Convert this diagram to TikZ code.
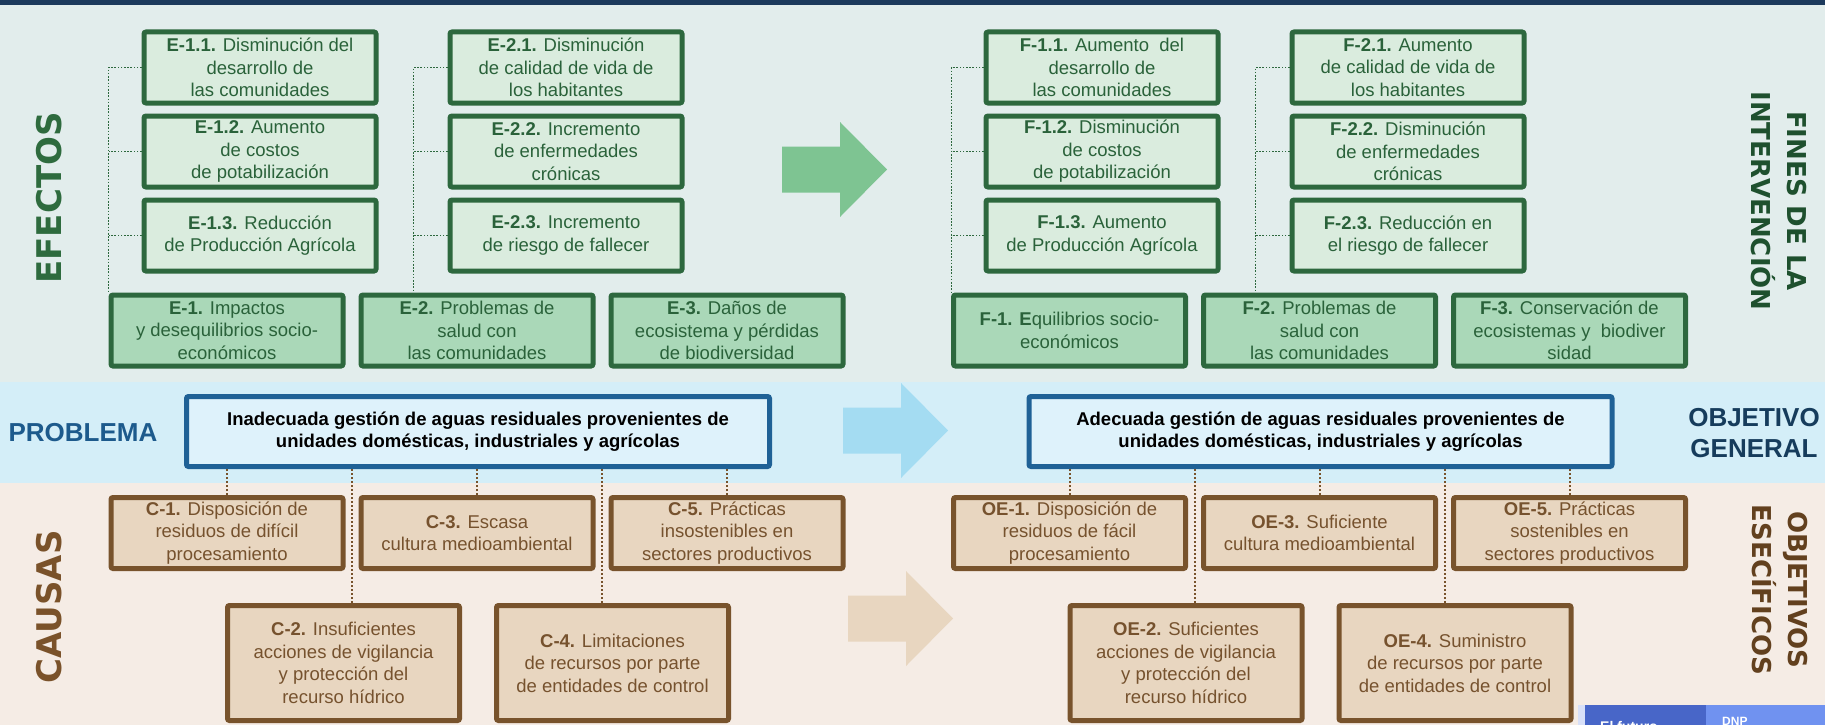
\documentclass[tikz,border=0pt]{standalone}
\usepackage{fontspec}
\setmainfont{Liberation Sans}
\newfontfamily\widefont{DejaVu Sans}
\usepackage{tikz}
\usetikzlibrary{calc, positioning}

\definecolor{navyline}{RGB}{28,58,92}
\definecolor{greenbg}{RGB}{226,237,236}
\definecolor{bluebg}{RGB}{212,238,248}
\definecolor{beigebg}{RGB}{245,236,229}
\definecolor{subfill}{RGB}{218,236,222}
\definecolor{effectfill}{RGB}{170,216,184}
\definecolor{greenline}{RGB}{45,104,62}
\definecolor{greentext}{RGB}{42,98,58}
\definecolor{greenarrow}{RGB}{126,196,146}
\definecolor{blueline}{RGB}{31,97,150}
\definecolor{bluefill}{RGB}{222,242,251}
\definecolor{bluearrow}{RGB}{164,220,242}
\definecolor{probtext}{RGB}{29,90,140}
\definecolor{objtext}{RGB}{22,60,92}
\definecolor{brownline}{RGB}{120,83,44}
\definecolor{brownfill}{RGB}{232,214,192}
\definecolor{browntext}{RGB}{118,82,46}
\definecolor{causastext}{RGB}{122,82,42}
\definecolor{objesptext}{RGB}{98,64,30}
\definecolor{finestext}{RGB}{30,80,46}
\definecolor{efectostext}{RGB}{46,107,62}
\definecolor{dnpdark}{RGB}{72,102,200}
\definecolor{dnplight}{RGB}{112,146,240}
\definecolor{dnpstrip}{RGB}{216,224,248}

% fat block arrow: shaft left x, centre y, colour
\newcommand{\fatarrow}[3]{\fill[#3] (#1,#2) ++(0,23) -- ++(58,0) -- ++(0,24.5) -- ++(47,-47.5) -- ++(-47,-47.5) -- ++(0,24.5) -- ++(-58,0) -- cycle;}

\begin{document}
\begin{tikzpicture}
[
    x = 1pt, y = 1pt,
    every node/.style = {align = center, inner sep = 0pt},
    GreenLink/.style = {draw = greenline, line width = 1.8pt, dash pattern = on 1.6pt off 1.6pt},
    BrownLink/.style = {draw = brownline, line width = 2pt, dash pattern = on 2pt off 2pt}
  ]

  \tikzset{BoxStyle/.style = {shape           = rectangle,
                              rounded corners = 2pt,
                              line width      = 5pt,
                              minimum width   = 232pt,
                              minimum height  = 71pt,
                              font            = \fontsize{18.5}{22.5}\selectfont}}
  \tikzset{SubEffectStyle/.style = {BoxStyle, draw = greenline, fill = subfill, text = greentext},
           EffectStyle/.style    = {BoxStyle, draw = greenline, fill = effectfill, text = greentext},
           CauseStyle/.style     = {BoxStyle, draw = brownline, fill = brownfill, text = browntext},
           BigCauseStyle/.style  = {CauseStyle, minimum height = 115pt},
           CentralStyle/.style   = {BoxStyle, draw = blueline, fill = bluefill, text = black,
                                    line width = 5pt, minimum width = 583pt, minimum height = 70pt,
                                    font = \fontsize{18.5}{21.5}\selectfont\bfseries},
           SideStyle/.style      = {font = \widefont\bfseries\fontsize{34}{40}\selectfont},
           TitleStyle/.style     = {font = \widefont\bfseries\fontsize{26}{36}\selectfont},
           BandStyle/.style      = {font = \bfseries\fontsize{26}{31}\selectfont}}

  \useasboundingbox (0,0) rectangle (1825,-725);

  % bands
  \fill[greenbg] (0,0) rectangle (1825,-382);
  \fill[navyline] (0,-0.5) rectangle (1825,-5);
  \fill[bluebg] (0,-382) rectangle (1825,-483);
  \fill[beigebg] (0,-483) rectangle (1825,-725);

  \fatarrow{782}{-169.5}{greenarrow}
  \fatarrow{843}{-430.5}{bluearrow}
  \fatarrow{848}{-618.5}{brownfill}

  % side labels
  \node[SideStyle, text = efectostext, rotate = 90](efectos) at (49,-198) {EFECTOS};
  \node[SideStyle, text = causastext, rotate = 90](causas) at (49,-607) {CAUSAS};
  \node[TitleStyle, text = finestext, rotate = -90](fines) at (1779,-201) {FINES DE LA\\INTERVENCIÓN};
  \node[TitleStyle, text = objesptext, rotate = -90](objesp) at (1780,-590) {OBJETIVOS\\ESECÍFICOS};
  \node[BandStyle, text = probtext](problabel) at (83,-433) {PROBLEMA};
  \node[BandStyle, text = objtext](objlabel) at (1754,-433) {OBJETIVO\\GENERAL};

  \begin{scope}[node distance = 8pt and 13pt]
  % efectos
  \node[SubEffectStyle](e11) at (260,-67.5) {\textbf{E-1.1.} Disminución del\\desarrollo de\\las comunidades};
  \node[SubEffectStyle, below = of e11](e12) {\textbf{E-1.2.} Aumento\\de costos\\de potabilización};
  \node[SubEffectStyle, below = of e12](e13) {\textbf{E-1.3.} Reducción\\de Producción Agrícola};
  \node[SubEffectStyle, right = 69pt of e11](e21) {\textbf{E-2.1.} Disminución\\de calidad de vida de\\los habitantes};
  \node[SubEffectStyle, below = of e21](e22) {\textbf{E-2.2.} Incremento\\de enfermedades\\crónicas};
  \node[SubEffectStyle, below = of e22](e23) {\textbf{E-2.3.} Incremento\\de riesgo de fallecer};

  \node[EffectStyle](e1) at (227,-330.5) {\textbf{E-1.} Impactos\\y desequilibrios socio-\\económicos};
  \node[EffectStyle, right = of e1](e2) {\textbf{E-2.} Problemas de\\salud con\\las comunidades};
  \node[EffectStyle, right = of e2](e3) {\textbf{E-3.} Daños de\\ecosistema y pérdidas\\de biodiversidad};

  % fines
  \node[SubEffectStyle](f11) at (1102,-67.5) {\textbf{F-1.1.} Aumento\ \ del\\desarrollo de\\las comunidades};
  \node[SubEffectStyle, below = of f11](f12) {\textbf{F-1.2.} Disminución\\de costos\\de potabilización};
  \node[SubEffectStyle, below = of f12](f13) {\textbf{F-1.3.} Aumento\\de Producción Agrícola};
  \node[SubEffectStyle, right = 69pt of f11](f21) {\textbf{F-2.1.} Aumento\\de calidad de vida de\\los habitantes};
  \node[SubEffectStyle, below = of f21](f22) {\textbf{F-2.2.} Disminución\\de enfermedades\\crónicas};
  \node[SubEffectStyle, below = of f22](f23) {\textbf{F-2.3.} Reducción en\\el riesgo de fallecer};

  \node[EffectStyle](f1) at (1069.5,-330.5) {\textbf{F-1. E}quilibrios socio-\\económicos};
  \node[EffectStyle, right = of f1](f2) {\textbf{F-2.} Problemas de\\salud con\\las comunidades};
  \node[EffectStyle, right = of f2](f3) {\textbf{F-3.} Conservación de\\ecosistemas y\ \ biodiver\\sidad};

  % problema / objetivo
  \node[CentralStyle](prob) at (478,-431.5) {Inadecuada gestión de aguas residuales provenientes de\\unidades domésticas, industriales y agrícolas};
  \node[CentralStyle](obj) at (1320.5,-431.5) {Adecuada gestión de aguas residuales provenientes de\\unidades domésticas, industriales y agrícolas};

  % causas
  \node[CauseStyle](c1) at (227,-533) {\textbf{C-1.} Disposición de\\residuos de difícil\\procesamiento};
  \node[CauseStyle, right = of c1](c3) {\textbf{C-3.} Escasa\\cultura medioambiental};
  \node[CauseStyle, right = of c3](c5) {\textbf{C-5.} Prácticas\\insostenibles en\\sectores productivos};
  \node[BigCauseStyle](c2) at (343.5,-663) {\textbf{C-2.} Insuficientes\\acciones de vigilancia\\y protección del\\recurso hídrico};
  \node[BigCauseStyle, right = 32pt of c2](c4) {\textbf{C-4.} Limitaciones\\de recursos por parte\\de entidades de control};

  % objetivos especificos
  \node[CauseStyle](oe1) at (1069.5,-533) {\textbf{OE-1.} Disposición de\\residuos de fácil\\procesamiento};
  \node[CauseStyle, right = of oe1](oe3) {\textbf{OE-3.} Suficiente\\cultura medioambiental};
  \node[CauseStyle, right = of oe3](oe5) {\textbf{OE-5.} Prácticas\\sostenibles en\\sectores productivos};
  \node[BigCauseStyle](oe2) at (1186,-663) {\textbf{OE-2.} Suficientes\\acciones de vigilancia\\y protección del\\recurso hídrico};
  \node[BigCauseStyle, right = 32pt of oe2](oe4) {\textbf{OE-4.} Suministro\\de recursos por parte\\de entidades de control};
  \end{scope}

  % dotted trees
  \coordinate (e1trunk) at ([xshift=-33pt]e11.west);
  \coordinate (e2trunk) at ([xshift=-34pt]e21.west);
  \coordinate (f1trunk) at ([xshift=-32pt]f11.west);
  \coordinate (f2trunk) at ([xshift=-34pt]f21.west);
  \draw[GreenLink] (e11.west) -- (e1trunk) -- (e1trunk |- e1.north);
  \draw[GreenLink] (e12.west) -- (e12.west -| e1trunk);
  \draw[GreenLink] (e13.west) -- (e13.west -| e1trunk);
  \draw[GreenLink] (e21.west) -- (e2trunk) -- (e2trunk |- e2.north);
  \draw[GreenLink] (e22.west) -- (e22.west -| e2trunk);
  \draw[GreenLink] (e23.west) -- (e23.west -| e2trunk);
  \draw[GreenLink] (f11.west) -- (f1trunk) -- (f1trunk |- f1.north);
  \draw[GreenLink] (f12.west) -- (f12.west -| f1trunk);
  \draw[GreenLink] (f13.west) -- (f13.west -| f1trunk);
  \draw[GreenLink] (f21.west) -- (f2trunk) -- (f2trunk |- f2.north);
  \draw[GreenLink] (f22.west) -- (f22.west -| f2trunk);
  \draw[GreenLink] (f23.west) -- (f23.west -| f2trunk);

  \draw[BrownLink] (c1.north) -- (c1.north |- prob.south);
  \draw[BrownLink] (c3.north) -- (c3.north |- prob.south);
  \draw[BrownLink] (c5.north) -- (c5.north |- prob.south);
  \coordinate (c2link) at ($(c1.north east)!0.5!(c3.north west)$);
  \coordinate (c4link) at ($(c3.north east)!0.5!(c5.north west)$);
  \draw[BrownLink] (c2link |- prob.south) -- (c2link |- c2.north);
  \draw[BrownLink] (c4link |- prob.south) -- (c4link |- c4.north);

  \draw[BrownLink] (oe1.north) -- (oe1.north |- obj.south);
  \draw[BrownLink] (oe3.north) -- (oe3.north |- obj.south);
  \draw[BrownLink] (oe5.north) -- (oe5.north |- obj.south);
  \coordinate (oe2link) at ($(oe1.north east)!0.5!(oe3.north west)$);
  \coordinate (oe4link) at ($(oe3.north east)!0.5!(oe5.north west)$);
  \draw[BrownLink] (oe2link |- obj.south) -- (oe2link |- oe2.north);
  \draw[BrownLink] (oe4link |- obj.south) -- (oe4link |- oe4.north);

  % logo strip, cut by the page edge
  \fill[dnpstrip] (1578,-705) rectangle (1585,-725);
  \fill[dnpdark] (1585,-705) rectangle (1706,-725);
  \fill[dnplight] (1706,-705) rectangle (1825,-725);
  \node[text = white, anchor = north west, font = \bfseries\fontsize{14}{14}\selectfont](slogan) at (1600,-721) {El futuro};
  \node[text = white, anchor = north west, font = \bfseries\fontsize{12}{12}\selectfont](dnp) at (1722,-717) {DNP};
\end{tikzpicture}
\end{document}
